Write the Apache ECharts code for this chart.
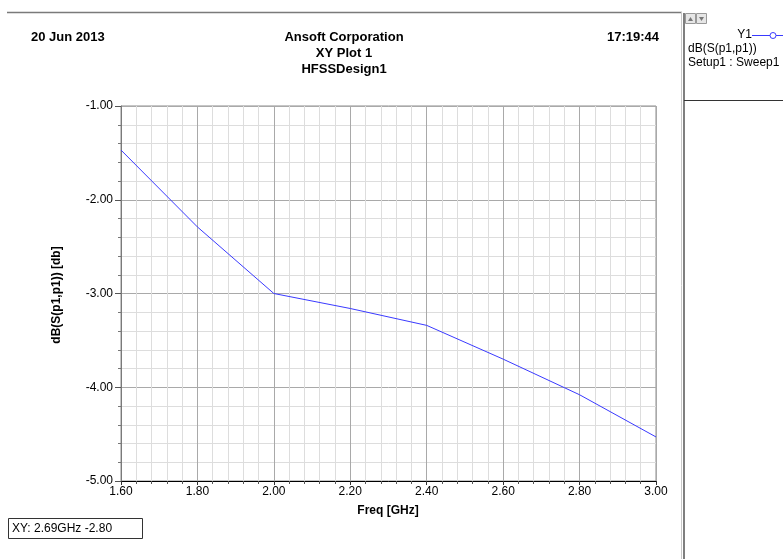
<!DOCTYPE html>
<html>
<head>
<meta charset="utf-8">
<script src="https://cdn.jsdelivr.net/npm/echarts@6/dist/echarts.min.js"></script>
<style>
  html, body { margin: 0; padding: 0; background: #fff; }
  #xy-plot-container { width: 783px; height: 559px; }
</style>
</head>
<body>
<div id="xy-plot-container"></div>
<script>
// sweep points (GHz) and dB(S(p1,p1)) values
const freqs = [1.6, 1.8, 2.0, 2.2, 2.4, 2.6, 2.8, 3.0]
const s11db = [-1.47, -2.29, -3.0, -3.16, -3.34, -3.70, -4.08, -4.53]
const headerLeft = '20 Jun 2013'
const headerTitle = ['Ansoft Corporation', 'XY Plot 1', 'HFSSDesign1']
const headerRight = '17:19:44'
const legendLines = ['dB(S(p1,p1))', 'Setup1 : Sweep1']
const markerText = 'XY: 2.69GHz -2.80'

const font = "'Liberation Sans', Arial, sans-serif"
const headFont = 'bold 13px ' + font
const myChart = echarts.init(document.getElementById('xy-plot-container'))

const option = {
  animation: false,
  backgroundColor: '#fff',
  grid: {
    left: 121,
    top: 106,
    width: 535,
    height: 375,
    show: true,
    borderColor: '#8c8c8c',
    borderWidth: 1
  },
  xAxis: {
    type: 'value',
    min: 1.6,
    max: 3.0,
    interval: 0.2,
    axisLine: { lineStyle: { color: '#000', width: 1 } },
    axisTick: { show: true, length: 4, lineStyle: { color: '#333' } },
    minorTick: { show: true, splitNumber: 5, length: 3, lineStyle: { color: '#555' } },
    axisLabel: {
      margin: 5,
      color: '#000',
      fontFamily: font,
      fontSize: 12,
      formatter: v => v.toFixed(2)
    },
    splitLine: { show: true, lineStyle: { color: '#a9a9a9', width: 1 } },
    minorSplitLine: { show: true, lineStyle: { color: '#dddddd', width: 1 } }
  },
  yAxis: {
    type: 'value',
    min: -5,
    max: -1,
    interval: 1,
    axisLine: { show: true, lineStyle: { color: '#7a7a7a', width: 1 } },
    axisTick: { show: true, length: 6, lineStyle: { color: '#555' } },
    minorTick: { show: true, splitNumber: 5, length: 3, lineStyle: { color: '#777' } },
    axisLabel: {
      margin: 8,
      color: '#000',
      fontFamily: font,
      fontSize: 12,
      formatter: v => v.toFixed(2)
    },
    splitLine: { show: true, lineStyle: { color: '#a9a9a9', width: 1 } },
    minorSplitLine: { show: true, lineStyle: { color: '#dddddd', width: 1 } }
  },
  series: [
    {
      name: 'dB(S(p1,p1))',
      type: 'line',
      symbol: 'none',
      lineStyle: { color: '#3a3aff', width: 1 },
      data: freqs.map((f, i) => [f, s11db[i]])
    }
  ],
  graphic: [
    // frame line across the top
    { type: 'line', shape: { x1: 7, y1: 12.5, x2: 682, y2: 12.5 }, style: { stroke: '#7a7a7a', lineWidth: 1.5 } },
    // header text
    { type: 'text', x: 31, y: 37, style: { text: headerLeft, font: headFont, fill: '#000', textVerticalAlign: 'middle' } },
    { type: 'text', x: 344, y: 37, style: { text: headerTitle[0], font: headFont, fill: '#000', textAlign: 'center', textVerticalAlign: 'middle' } },
    { type: 'text', x: 344, y: 53, style: { text: headerTitle[1], font: headFont, fill: '#000', textAlign: 'center', textVerticalAlign: 'middle' } },
    { type: 'text', x: 344, y: 69, style: { text: headerTitle[2], font: headFont, fill: '#000', textAlign: 'center', textVerticalAlign: 'middle' } },
    { type: 'text', x: 659, y: 37, style: { text: headerRight, font: headFont, fill: '#000', textAlign: 'right', textVerticalAlign: 'middle' } },
    // axis titles
    { type: 'text', x: 388, y: 511, style: { text: 'Freq [GHz]', font: 'bold 12px ' + font, fill: '#000', textAlign: 'center', textVerticalAlign: 'middle' } },
    { type: 'text', x: 57, y: 295, rotation: Math.PI / 2, style: { text: 'dB(S(p1,p1)) [db]', font: 'bold 12px ' + font, fill: '#000', textAlign: 'center', textVerticalAlign: 'middle' } },
    // marker readout box
    { type: 'rect', shape: { x: 8.5, y: 518.5, width: 134, height: 20 }, style: { fill: '#fff', stroke: '#333', lineWidth: 1 } },
    { type: 'text', x: 12, y: 529, style: { text: markerText, font: '12px ' + font, fill: '#000', textVerticalAlign: 'middle' } },
    // legend panel on the right
    { type: 'line', shape: { x1: 681.5, y1: 12, x2: 681.5, y2: 559 }, style: { stroke: '#c8c8c8', lineWidth: 1 } },
    { type: 'line', shape: { x1: 684, y1: 13, x2: 684, y2: 559 }, style: { stroke: '#555', lineWidth: 1.5 } },
    { type: 'rect', shape: { x: 685.5, y: 13.5, width: 10, height: 10 }, style: { fill: '#e6e6e6', stroke: '#999', lineWidth: 1 } },
    { type: 'rect', shape: { x: 696.5, y: 13.5, width: 10, height: 10 }, style: { fill: '#e6e6e6', stroke: '#999', lineWidth: 1 } },
    { type: 'polygon', shape: { points: [[688, 21], [693, 21], [690.5, 17]] }, style: { fill: '#777' } },
    { type: 'polygon', shape: { points: [[699, 17], [704, 17], [701.5, 21]] }, style: { fill: '#777' } },
    { type: 'text', x: 752, y: 35, style: { text: 'Y1', font: '12px ' + font, fill: '#000', textAlign: 'right', textVerticalAlign: 'middle' } },
    { type: 'line', shape: { x1: 752, y1: 35.5, x2: 783, y2: 35.5 }, style: { stroke: '#3a3aff', lineWidth: 1 } },
    { type: 'circle', shape: { cx: 773, cy: 35.5, r: 3 }, style: { fill: '#fff', stroke: '#3a3aff', lineWidth: 1 } },
    { type: 'text', x: 688, y: 49, style: { text: legendLines[0], font: '12px ' + font, fill: '#000', textVerticalAlign: 'middle' } },
    { type: 'text', x: 688, y: 63, style: { text: legendLines[1], font: '12px ' + font, fill: '#000', textVerticalAlign: 'middle' } },
    { type: 'line', shape: { x1: 684, y1: 100.5, x2: 783, y2: 100.5 }, style: { stroke: '#333', lineWidth: 1 } }
  ]
}
myChart.setOption(option)
</script>
</body>
</html>
